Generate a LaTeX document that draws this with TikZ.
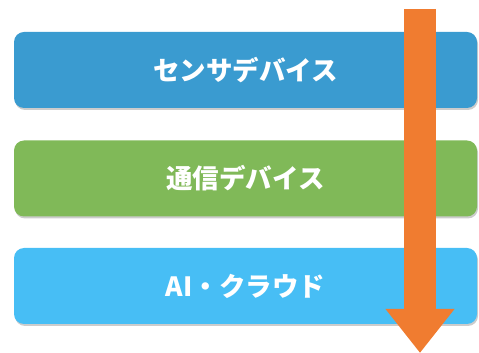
\documentclass[tikz,border=0pt]{standalone}
\usepackage{fontspec}
\usepackage{tikz}
\usetikzlibrary{positioning,arrows.meta,shadows}
\newfontfamily\jpfont{Noto Sans CJK JP}
\definecolor{sensor}{HTML}{3A9BD0}
\definecolor{comm}{HTML}{80B958}
\definecolor{cloud}{HTML}{47BEF5}
\definecolor{flow}{HTML}{F07C30}
\tikzset{
  layer/.style={rounded corners=10pt,minimum width=463pt,minimum height=76pt,
    text=white,font=\jpfont\bfseries\fontsize{26.5pt}{30pt}\selectfont,inner sep=0pt,
    drop shadow={shadow xshift=1pt,shadow yshift=-2pt,fill=black,opacity=.2}},
}
\begin{document}
\begin{tikzpicture}[x=1pt,y=1pt]
\useasboundingbox (0,0) rectangle (479,353);
\node[layer,fill=sensor] (sensor) at (245.5,283) {センサデバイス};
\node[layer,fill=comm] (comm) at (245.5,174.5) {通信デバイス};
\node[layer,fill=cloud] (cloud) at (245.5,67) {AI・クラウド};
\coordinate (start) at (420,344);
\coordinate (tip) at (420,0);
\draw[flow,line width=32pt,-{Triangle[length=44pt 0,width=66pt 0]}] (start) -- (tip);
\end{tikzpicture}
\end{document}
